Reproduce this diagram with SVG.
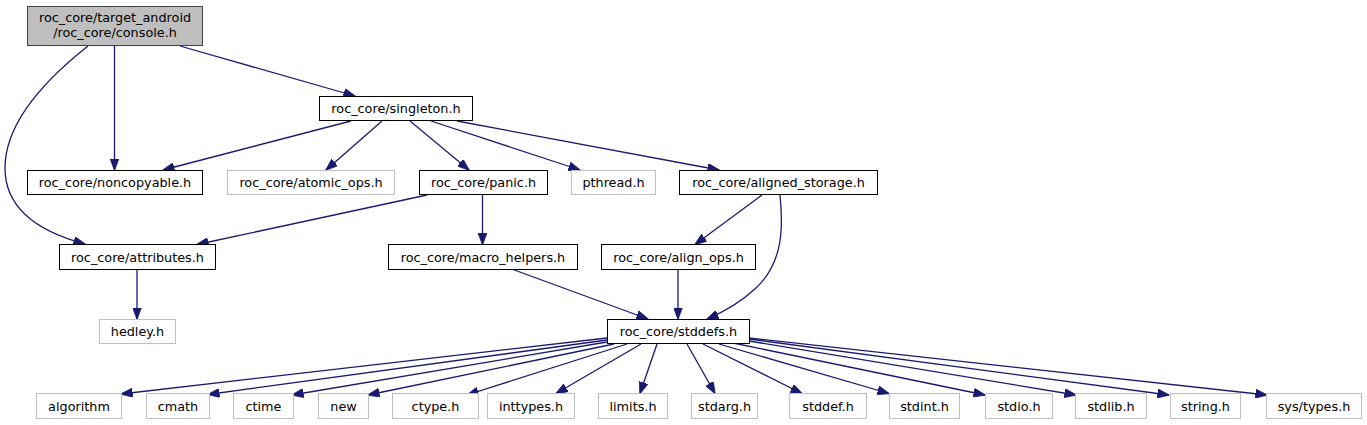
<svg xmlns="http://www.w3.org/2000/svg" width="1367" height="425" viewBox="0 0 1367 425">
<style>
  .n rect { fill: #ffffff; stroke: #000000; stroke-width: 1; }
  .x rect { fill: #ffffff; stroke: #bfbfbf; stroke-width: 1; }
  .root rect { fill: #bfbfbf; stroke: #404040; stroke-width: 1; }
  text { font-family: "DejaVu Sans", "Liberation Sans", sans-serif; font-size: 12.8px; fill: #000000; text-anchor: middle; }
  #edges path, #edges line { fill: none; stroke: #191970; stroke-width: 1.3; marker-end: url(#ah); }
</style>
<defs>
  <marker id="ah" markerUnits="userSpaceOnUse" markerWidth="12" markerHeight="9" refX="11.5" refY="4.5" orient="auto">
    <path d="M0,0 L12,4.5 L0,9 Z" fill="#191970" stroke="#191970" stroke-width="0.8"/>
  </marker>
</defs>
<rect width="1367" height="425" fill="#ffffff"/>

<g id="edges">
  <line x1="114.5" y1="46" x2="114.5" y2="170"/>
  <line x1="180" y1="46" x2="355" y2="96"/>
  <path d="M88,46 C50,76 5,120 5,168 C5,210 40,232 85,244"/>
  <line x1="351" y1="121" x2="163" y2="170"/>
  <line x1="382" y1="121" x2="326" y2="170"/>
  <line x1="410" y1="121" x2="469" y2="170"/>
  <line x1="431" y1="121" x2="580" y2="170"/>
  <line x1="457" y1="121" x2="719" y2="170"/>
  <line x1="427" y1="195" x2="197" y2="244.5"/>
  <line x1="482.5" y1="195" x2="482.5" y2="244.5"/>
  <line x1="762" y1="195" x2="695" y2="244.5"/>
  <path d="M780,195 C783,225 784,262 756,288 C742,301 726,311 707,319"/>
  <line x1="513" y1="269.5" x2="648" y2="319"/>
  <line x1="678" y1="269.5" x2="678" y2="319"/>
  <line x1="137" y1="269.5" x2="137" y2="319"/>
  <line x1="607" y1="338" x2="121" y2="394"/>
  <line x1="607" y1="340" x2="208" y2="394.5"/>
  <line x1="607" y1="342" x2="292" y2="395"/>
  <line x1="614" y1="344" x2="368" y2="395"/>
  <line x1="627" y1="344" x2="467" y2="395"/>
  <line x1="641" y1="344" x2="556" y2="393.5"/>
  <line x1="657" y1="344" x2="640" y2="393.5"/>
  <line x1="687" y1="344" x2="715" y2="393.5"/>
  <line x1="703" y1="344" x2="802" y2="393.5"/>
  <line x1="719" y1="344" x2="889" y2="393.5"/>
  <line x1="733" y1="343" x2="985" y2="395"/>
  <line x1="749" y1="341" x2="1076" y2="395"/>
  <line x1="749" y1="339" x2="1169" y2="395"/>
  <line x1="749" y1="338" x2="1267" y2="395"/>
</g>

<g id="node-console" class="root"><rect x="27.5" y="6.5" width="175" height="39"/><text x="115" y="22">roc_core/target_android</text><text x="115" y="37">/roc_core/console.h</text></g>
<g id="node-singleton" class="n"><rect x="319.5" y="96.5" width="153" height="24"/><text x="396" y="113">roc_core/singleton.h</text></g>
<g id="node-noncopyable" class="n"><rect x="27.5" y="170.5" width="175" height="24"/><text x="115" y="187">roc_core/noncopyable.h</text></g>
<g id="node-atomic_ops" class="x"><rect x="227.5" y="170.5" width="167" height="24"/><text x="311" y="187">roc_core/atomic_ops.h</text></g>
<g id="node-panic" class="n"><rect x="419.5" y="170.5" width="128" height="24"/><text x="483.5" y="187">roc_core/panic.h</text></g>
<g id="node-pthread" class="x"><rect x="571.5" y="170.5" width="84" height="24"/><text x="613.5" y="187">pthread.h</text></g>
<g id="node-aligned_storage" class="n"><rect x="679.5" y="170.5" width="198" height="24"/><text x="778.5" y="187">roc_core/aligned_storage.h</text></g>
<g id="node-attributes" class="n"><rect x="59.5" y="244.5" width="156" height="25"/><text x="137.5" y="261.5">roc_core/attributes.h</text></g>
<g id="node-macro_helpers" class="n"><rect x="388.5" y="244.5" width="189" height="25"/><text x="483" y="261.5">roc_core/macro_helpers.h</text></g>
<g id="node-align_ops" class="n"><rect x="601.5" y="244.5" width="154" height="25"/><text x="678.5" y="261.5">roc_core/align_ops.h</text></g>
<g id="node-hedley" class="x"><rect x="99.5" y="319.5" width="76" height="24"/><text x="137.5" y="336">hedley.h</text></g>
<g id="node-stddefs" class="n"><rect x="607.5" y="319.5" width="142" height="24"/><text x="678.5" y="336">roc_core/stddefs.h</text></g>

<g id="node-algorithm" class="x"><rect x="36.5" y="393.5" width="85" height="25"/><text x="79" y="410.5">algorithm</text></g>
<g id="node-cmath" class="x"><rect x="146.5" y="393.5" width="63" height="25"/><text x="178" y="410.5">cmath</text></g>
<g id="node-ctime" class="x"><rect x="233.5" y="393.5" width="60" height="25"/><text x="263.5" y="410.5">ctime</text></g>
<g id="node-new" class="x"><rect x="318.5" y="393.5" width="50" height="25"/><text x="343.5" y="410.5">new</text></g>
<g id="node-ctype" class="x"><rect x="392.5" y="393.5" width="86" height="25"/><text x="435.5" y="410.5">ctype.h</text></g>
<g id="node-inttypes" class="x"><rect x="487.5" y="393.5" width="87" height="25"/><text x="531" y="410.5">inttypes.h</text></g>
<g id="node-limits" class="x"><rect x="598.5" y="393.5" width="69" height="25"/><text x="633" y="410.5">limits.h</text></g>
<g id="node-stdarg" class="x"><rect x="691.5" y="393.5" width="66" height="25"/><text x="724.5" y="410.5">stdarg.h</text></g>
<g id="node-stddef" class="x"><rect x="789.5" y="393.5" width="77" height="25"/><text x="828" y="410.5">stddef.h</text></g>
<g id="node-stdint" class="x"><rect x="889.5" y="393.5" width="70" height="25"/><text x="924.5" y="410.5">stdint.h</text></g>
<g id="node-stdio" class="x"><rect x="985.5" y="393.5" width="67" height="25"/><text x="1019" y="410.5">stdio.h</text></g>
<g id="node-stdlib" class="x"><rect x="1075.5" y="393.5" width="71" height="25"/><text x="1111" y="410.5">stdlib.h</text></g>
<g id="node-string" class="x"><rect x="1170.5" y="393.5" width="70" height="25"/><text x="1205.5" y="410.5">string.h</text></g>
<g id="node-systypes" class="x"><rect x="1266.5" y="393.5" width="95" height="25"/><text x="1314" y="410.5">sys/types.h</text></g>
</svg>
